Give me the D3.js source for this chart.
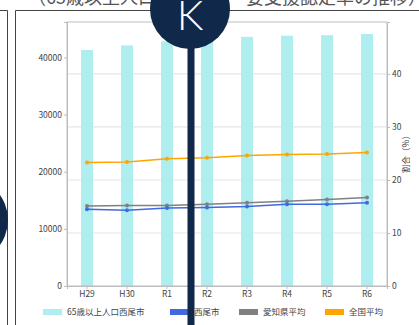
<!DOCTYPE html>
<html>
<head>
<meta charset="utf-8">
<script src="https://cdn.jsdelivr.net/npm/d3@7/dist/d3.min.js"></script>
<style>
  html, body { margin: 0; padding: 0; background: #fff; }
  svg { display: block; }
  text { font-family: "Noto Sans CJK JP", "Noto Sans", sans-serif; }
</style>
</head>
<body>
<svg id="chart" width="419" height="325"></svg>
<script>
// Fiscal years
const categories = ["H29", "H30", "R1", "R2", "R3", "R4", "R5", "R6"];
// Population aged 65+ in Nishio (persons)
const population = [41300, 42100, 42800, 43300, 43600, 43800, 43900, 44100];
// Certification rate (%)
const nishioRate = [14.5, 14.3, 14.7, 14.8, 15.0, 15.4, 15.4, 15.7];
const aichiRate = [15.1, 15.2, 15.2, 15.4, 15.7, 16.0, 16.3, 16.7];
const nationalRate = [23.3, 23.4, 24.0, 24.2, 24.6, 24.8, 24.9, 25.2];
// Axis ticks
const leftTicks = [0, 10000, 20000, 30000, 40000];
const rightTicks = [0, 10, 20, 30, 40];

const legendItems = [
  { label: "65歳以上人口西尾市", color: "#afeeee" },
  { label: "西尾市", color: "#4169e1" },
  { label: "愛知県平均", color: "#808080" },
  { label: "全国平均", color: "#ffa500" }
];

const svg = d3.select("#chart");
const plot = { left: 67, right: 387, top: 22, bottom: 286 };

// Page frame
svg.append("path").attr("d", "M0,10.5H7.5V325").attr("fill", "none").attr("stroke", "#444").attr("stroke-width", 1);
svg.append("path").attr("d", "M15.5,325V10.5H419").attr("fill", "none").attr("stroke", "#444").attr("stroke-width", 1);

// Heading
svg.append("text").attr("x", 28).attr("y", 4).attr("font-size", 18).attr("fill", "#555")
  .text("（65歳以上人口と要介護・要支援認定率の推移）");

const x = d3.scaleBand().domain(categories).range([plot.left, plot.right]).paddingInner(0.7).paddingOuter(0.35);
const yL = d3.scaleLinear().domain([0, 46200]).range([plot.bottom, plot.top]);
const yR = d3.scaleLinear().domain([0, 49.8]).range([plot.bottom, plot.top]);
const cx = d => x(d) + x.bandwidth() / 2;

// Gridlines on the rate axis
svg.append("g").selectAll("line").data(rightTicks.filter(t => t > 0)).join("line")
  .attr("x1", plot.left).attr("x2", plot.right)
  .attr("y1", d => yR(d)).attr("y2", d => yR(d))
  .attr("stroke", "#e6e6e6").attr("stroke-width", 1.2);

// Bars
svg.append("g").selectAll("rect").data(categories).join("rect")
  .attr("x", d => x(d)).attr("width", x.bandwidth())
  .attr("y", (d, i) => yL(population[i]))
  .attr("height", (d, i) => yL(0) - yL(population[i]))
  .attr("fill", "#afeeee");

// Plot border
svg.append("rect").attr("x", plot.left).attr("y", plot.top)
  .attr("width", plot.right - plot.left).attr("height", plot.bottom - plot.top)
  .attr("fill", "none").attr("stroke", "#bdbdbd").attr("stroke-width", 1);

// Axes
const axisStyle = g => {
  g.selectAll("path").attr("stroke", "#bdbdbd");
  g.selectAll("line").attr("stroke", "#bdbdbd");
  g.selectAll("text").attr("fill", "#444").attr("font-size", 8.5);
};
svg.append("g").attr("transform", `translate(${plot.left},0)`)
  .call(d3.axisLeft(yL).tickValues(leftTicks).tickSize(3).tickPadding(2).tickFormat(d3.format("d")))
  .call(axisStyle);
svg.append("g").attr("transform", `translate(${plot.right},0)`)
  .call(d3.axisRight(yR).tickValues(rightTicks).tickSize(3).tickPadding(2))
  .call(axisStyle);
svg.append("g").attr("transform", `translate(0,${plot.bottom})`)
  .call(d3.axisBottom(x).tickSize(3).tickPadding(2))
  .call(axisStyle);

// Right axis title
svg.append("text").attr("transform", `translate(409,${(plot.top + plot.bottom) / 2 - 2}) rotate(-90)`)
  .attr("text-anchor", "middle").attr("font-size", 8.5).attr("fill", "#444").text("割合（%）");

// Rate lines
const seriesList = [
  { values: aichiRate, color: "#808080" },
  { values: nishioRate, color: "#4169e1" },
  { values: nationalRate, color: "#ffa500" }
];
const line = d3.line().x((d, i) => cx(categories[i])).y(d => yR(d));
seriesList.forEach(s => {
  svg.append("path").datum(s.values).attr("d", line)
    .attr("fill", "none").attr("stroke", s.color).attr("stroke-width", 1.5);
  svg.append("g").selectAll("circle").data(s.values).join("circle")
    .attr("cx", (d, i) => cx(categories[i])).attr("cy", d => yR(d)).attr("r", 2)
    .attr("fill", s.color);
});

// Legend
const legendX = [43, 170, 239, 325];
const lg = svg.append("g").selectAll("g").data(legendItems).join("g")
  .attr("transform", (d, i) => `translate(${legendX[i]},312)`);
lg.append("rect").attr("x", 0).attr("y", -3).attr("width", 19).attr("height", 6).attr("fill", d => d.color);
lg.append("text").attr("x", 24).attr("y", 3).attr("font-size", 8.5).attr("fill", "#444").text(d => d.label);

// Badge overlay
const navy = "#10294a";
svg.append("rect").attr("x", 187.5).attr("y", 30).attr("width", 7).attr("height", 295).attr("fill", navy);
svg.append("circle").attr("cx", 190).attr("cy", 9).attr("r", 40).attr("fill", navy);
svg.append("text").attr("x", 190).attr("y", 30).attr("text-anchor", "middle")
  .attr("font-size", 42).attr("font-weight", 300).attr("fill", "#fff")
  .style("font-family", "Lato, 'Open Sans', sans-serif").text("K");
svg.append("circle").attr("cx", -35).attr("cy", 220).attr("r", 43).attr("fill", navy);
</script>
</body>
</html>
